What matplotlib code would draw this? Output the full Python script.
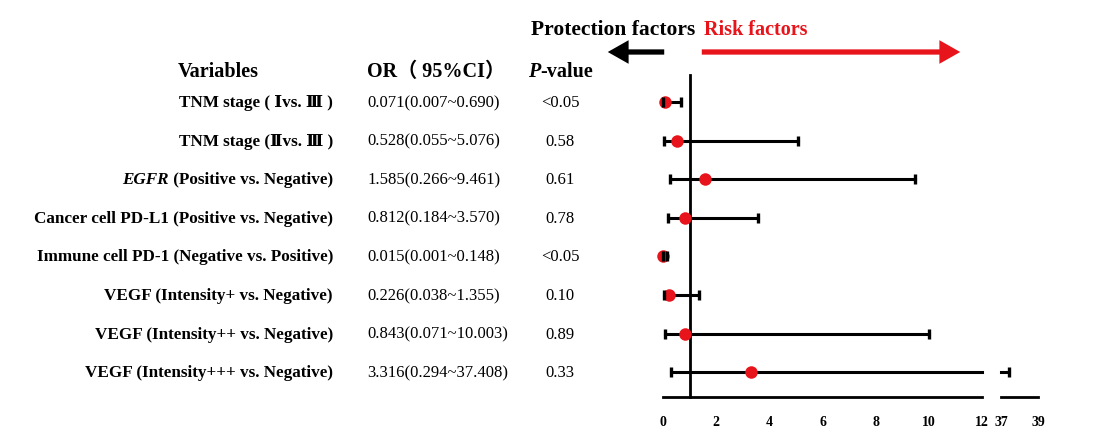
import matplotlib
matplotlib.use("Agg")
import matplotlib.pyplot as plt
from matplotlib.patches import FancyArrowPatch

variables = ["TNM stage ( Ⅰvs. Ⅲ )", "TNM stage (Ⅱvs. Ⅲ )", "EGFR|(Positive vs. Negative)",
             "Cancer cell PD-L1 (Positive vs. Negative)", "Immune cell PD-1 (Negative vs. Positive)",
             "VEGF (Intensity+ vs. Negative)", "VEGF (Intensity++ vs. Negative)",
             "VEGF (Intensity+++ vs. Negative)"]
odds = [0.071, 0.528, 1.585, 0.812, 0.015, 0.226, 0.843, 3.316]
lower = [0.007, 0.055, 0.266, 0.184, 0.001, 0.038, 0.071, 0.294]
upper = [0.690, 5.076, 9.461, 3.570, 0.148, 1.355, 10.003, 37.408]
or_text = ["0.071(0.007~0.690)", "0.528(0.055~5.076)", "1.585(0.266~9.461)", "0.812(0.184~3.570)",
           "0.015(0.001~0.148)", "0.226(0.038~1.355)", "0.843(0.071~10.003)", "3.316(0.294~37.408)"]
pvals = ["<0.05", "0.58", "0.61", "0.78", "<0.05", "0.10", "0.89", "0.33"]
ticks_main = [0, 2, 4, 6, 8, 10, 12]
ticks_break = [37, 39]

serif = ["Liberation Serif", "DejaVu Serif", "Noto Sans CJK SC"]
red = "#e8141b"
W, H = 1102, 438
fig = plt.figure(figsize=(W / 100, H / 100), dpi=100)

def px(x0, x1, y0, y1):
    return [x0 / W, 1 - y1 / H, (x1 - x0) / W, (y1 - y0) / H]

ylim = (7.64, -0.7)
ax = fig.add_axes(px(663, 982, 75, 397))
ax2 = fig.add_axes(px(1001, 1038, 75, 397))
ax.set_xlim(0, 12)
ax2.set_xlim(37, 39)
for a, t in ((ax, ticks_main), (ax2, ticks_break)):
    a.set_ylim(*ylim)
    a.patch.set_visible(False)
    for s in ("top", "right", "left"):
        a.spines[s].set_visible(False)
    a.spines["bottom"].set_linewidth(2)
    a.set_yticks([])
    a.set_xticks(t)
    a.tick_params(axis="x", length=0, pad=14)
    for lab in a.get_xticklabels():
        lab.set_fontfamily(serif)
        lab.set_fontweight("bold")
        lab.set_fontsize(10)

ax.axvline(1, color="black", lw=2, clip_on=False)

cap = 7
for i in range(len(odds)):
    hi = min(upper[i], 12)
    ax.plot([lower[i], hi], [i, i], color="black", lw=2.2, clip_on=False)
    ax.plot([lower[i]], [i], marker="|", ms=cap, mew=2.4, color="black", clip_on=False, zorder=6)
    if upper[i] <= 12:
        ax.plot([upper[i]], [i], marker="|", ms=cap, mew=2.4, color="black", clip_on=False, zorder=6)
    else:
        ax2.plot([37, upper[i]], [i, i], color="black", lw=2.2, clip_on=False)
        ax2.plot([upper[i]], [i], marker="|", ms=cap, mew=2.4, color="black", clip_on=False)
    ax.plot([odds[i]], [i], "o", color=red, ms=9, mec="none", clip_on=False, zorder=5)

# header
fs_head = 14.5
hy = 1 - 72 / H
fig.text(178 / W, hy, "Variables", family=serif, weight="bold", fontsize=fs_head, va="center")
fig.text(367 / W, hy, "OR（ 95%CI）", family=serif, weight="bold", fontsize=fs_head, va="center")
pt = fig.text(528 / W, hy, "P", family=serif, weight="bold", style="italic",
              fontsize=fs_head, va="center")
r = fig.canvas.get_renderer()
bb = pt.get_window_extent(r)
fig.text(bb.x1 / W, hy, "-value", family=serif, weight="bold", fontsize=fs_head, va="center")

fs = 12.3
for i, v in enumerate(variables):
    yy = 1 - (103 + 38.6 * i) / H
    if "|" in v:
        it, rest = v.split("|")
        t = fig.text(333 / W, yy, " " + rest, family=serif, weight="bold", fontsize=fs,
                     ha="right", va="center")
        bb = t.get_window_extent(r)
        fig.text(bb.x0 / W, yy, it, family=serif, weight="bold", style="italic", fontsize=fs,
                 ha="right", va="center")
    else:
        fig.text(333 / W, yy, v, family=serif, weight="bold", fontsize=fs, ha="right", va="center")
    fig.text(367 / W, yy, or_text[i], family=serif, fontsize=12, va="center")
    fig.text(560 / W, yy, pvals[i], family=serif, fontsize=12, ha="center", va="center")

# direction labels and arrows
fig.text(695 / W, 1 - 30 / H, "Protection factors", family=serif, weight="bold", fontsize=15.5,
         ha="right", va="center")
fig.text(704 / W, 1 - 30 / H, "Risk factors", family=serif, weight="bold", fontsize=14.5,
         color=red, va="center")
style = "simple,head_length=1.5,head_width=1.7,tail_width=0.38"
fig.patches.append(FancyArrowPatch((667 / W, 1 - 52 / H), (605 / W, 1 - 52 / H),
                                   transform=fig.transFigure, arrowstyle=style,
                                   mutation_scale=10, lw=0, color="black"))
fig.patches.append(FancyArrowPatch((699 / W, 1 - 52 / H), (963 / W, 1 - 52 / H),
                                   transform=fig.transFigure, arrowstyle=style,
                                   mutation_scale=10, lw=0, color=red))

fig.savefig("out.png", dpi=100)
